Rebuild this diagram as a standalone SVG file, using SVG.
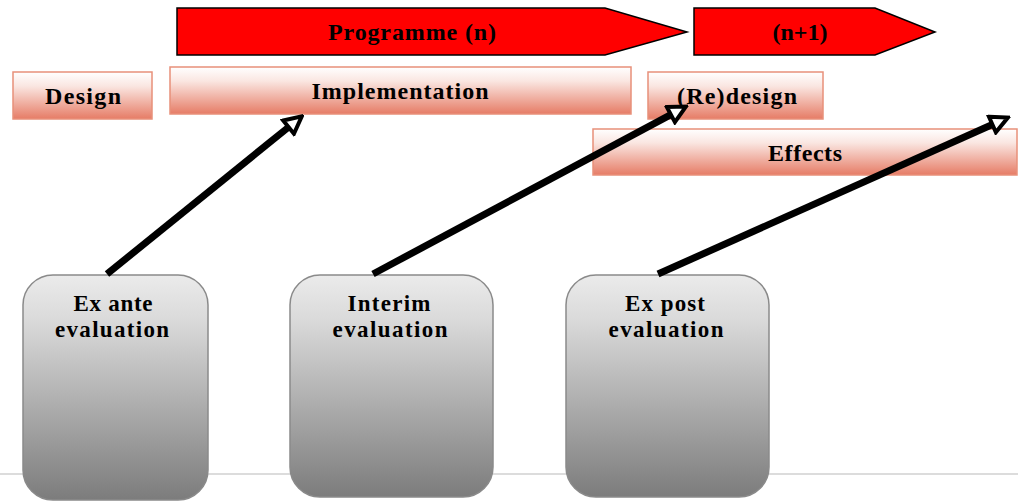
<svg xmlns="http://www.w3.org/2000/svg" width="1018" height="502" viewBox="0 0 1018 502">
<style>
.t{font-family:"Liberation Serif","Times New Roman",serif;font-weight:bold;fill:#000;text-anchor:middle}
.phase{fill:url(#pink);stroke:#e8907a;stroke-width:1.5}
.prog{fill:#ff0000;stroke:#000;stroke-width:1.5}
.eval{fill:url(#grey);stroke:#8a8a8a;stroke-width:1.5}
.conn{stroke:#000;stroke-width:7;fill:none;marker-end:url(#head)}
</style>
<defs>
<linearGradient id="pink" x1="0" y1="0" x2="0" y2="1">
<stop offset="0" stop-color="#ffffff"/>
<stop offset="0.3" stop-color="#fae6e1"/>
<stop offset="1" stop-color="#e67c66"/>
</linearGradient>
<linearGradient id="grey" x1="0" y1="0" x2="0" y2="1">
<stop offset="0" stop-color="#ebebeb"/>
<stop offset="0.2" stop-color="#dadada"/>
<stop offset="1" stop-color="#7c7c7c"/>
</linearGradient>
<marker id="head" viewBox="0 0 22 22" markerUnits="userSpaceOnUse" markerWidth="22" markerHeight="22" refX="2.5" refY="11" orient="auto">
<path d="M2.5,2.5 L19.5,11 L2.5,19.5 Z" fill="#fff" stroke="#000" stroke-width="4" stroke-linejoin="miter"/>
</marker>
</defs>
<rect width="1018" height="502" fill="#fff"/>
<line x1="0" y1="474" x2="1018" y2="474" stroke="#dcdcdc" stroke-width="2"/>
<g id="programme-n">
<path class="prog" d="M177,8 L605,8 L687,32 L605,55 L177,55 Z"/>
<text class="t" x="412" y="40" font-size="24" textLength="168" lengthAdjust="spacing">Programme (n)</text>
</g>
<g id="programme-n1">
<path class="prog" d="M694,8 L875,8 L935,32 L875,55 L694,55 Z"/>
<text class="t" x="800" y="40" font-size="24" textLength="55" lengthAdjust="spacing">(n+1)</text>
</g>
<g id="design">
<rect class="phase" x="13" y="72" width="139" height="47"/>
<text class="t" x="83" y="104" font-size="24" textLength="76" lengthAdjust="spacing">Design</text>
</g>
<g id="implementation">
<rect class="phase" x="170" y="67" width="461" height="47"/>
<text class="t" x="400" y="99" font-size="24" textLength="177" lengthAdjust="spacing">Implementation</text>
</g>
<g id="redesign">
<rect class="phase" x="648" y="72" width="175" height="47"/>
<text class="t" x="737" y="104" font-size="24" textLength="120" lengthAdjust="spacing">(Re)design</text>
</g>
<g id="effects">
<rect class="phase" x="593" y="129" width="424" height="46"/>
<text class="t" x="805" y="161" font-size="24" textLength="74" lengthAdjust="spacing">Effects</text>
</g>
<g id="exante">
<rect class="eval" x="23" y="275" width="185" height="225" rx="30" ry="30"/>
<text class="t" x="113" y="311" font-size="23" textLength="79" lengthAdjust="spacing">Ex ante</text>
<text class="t" x="112" y="337" font-size="23" textLength="114" lengthAdjust="spacing">evaluation</text>
</g>
<g id="interim">
<rect class="eval" x="290" y="275" width="203" height="222" rx="30" ry="30"/>
<text class="t" x="389" y="311" font-size="23" textLength="83" lengthAdjust="spacing">Interim</text>
<text class="t" x="390" y="337" font-size="23" textLength="115" lengthAdjust="spacing">evaluation</text>
</g>
<g id="expost">
<rect class="eval" x="566" y="275" width="203" height="222" rx="30" ry="30"/>
<text class="t" x="665" y="311" font-size="23" textLength="80" lengthAdjust="spacing">Ex post</text>
<text class="t" x="666" y="337" font-size="23" textLength="115" lengthAdjust="spacing">evaluation</text>
</g>
<g id="connectors">
<line class="conn" x1="107" y1="274" x2="288.6" y2="127.1"/>
<line class="conn" x1="373" y1="274" x2="670.9" y2="114.6"/>
<line class="conn" x1="658" y1="274" x2="992.4" y2="124.5"/>
</g>
</svg>
